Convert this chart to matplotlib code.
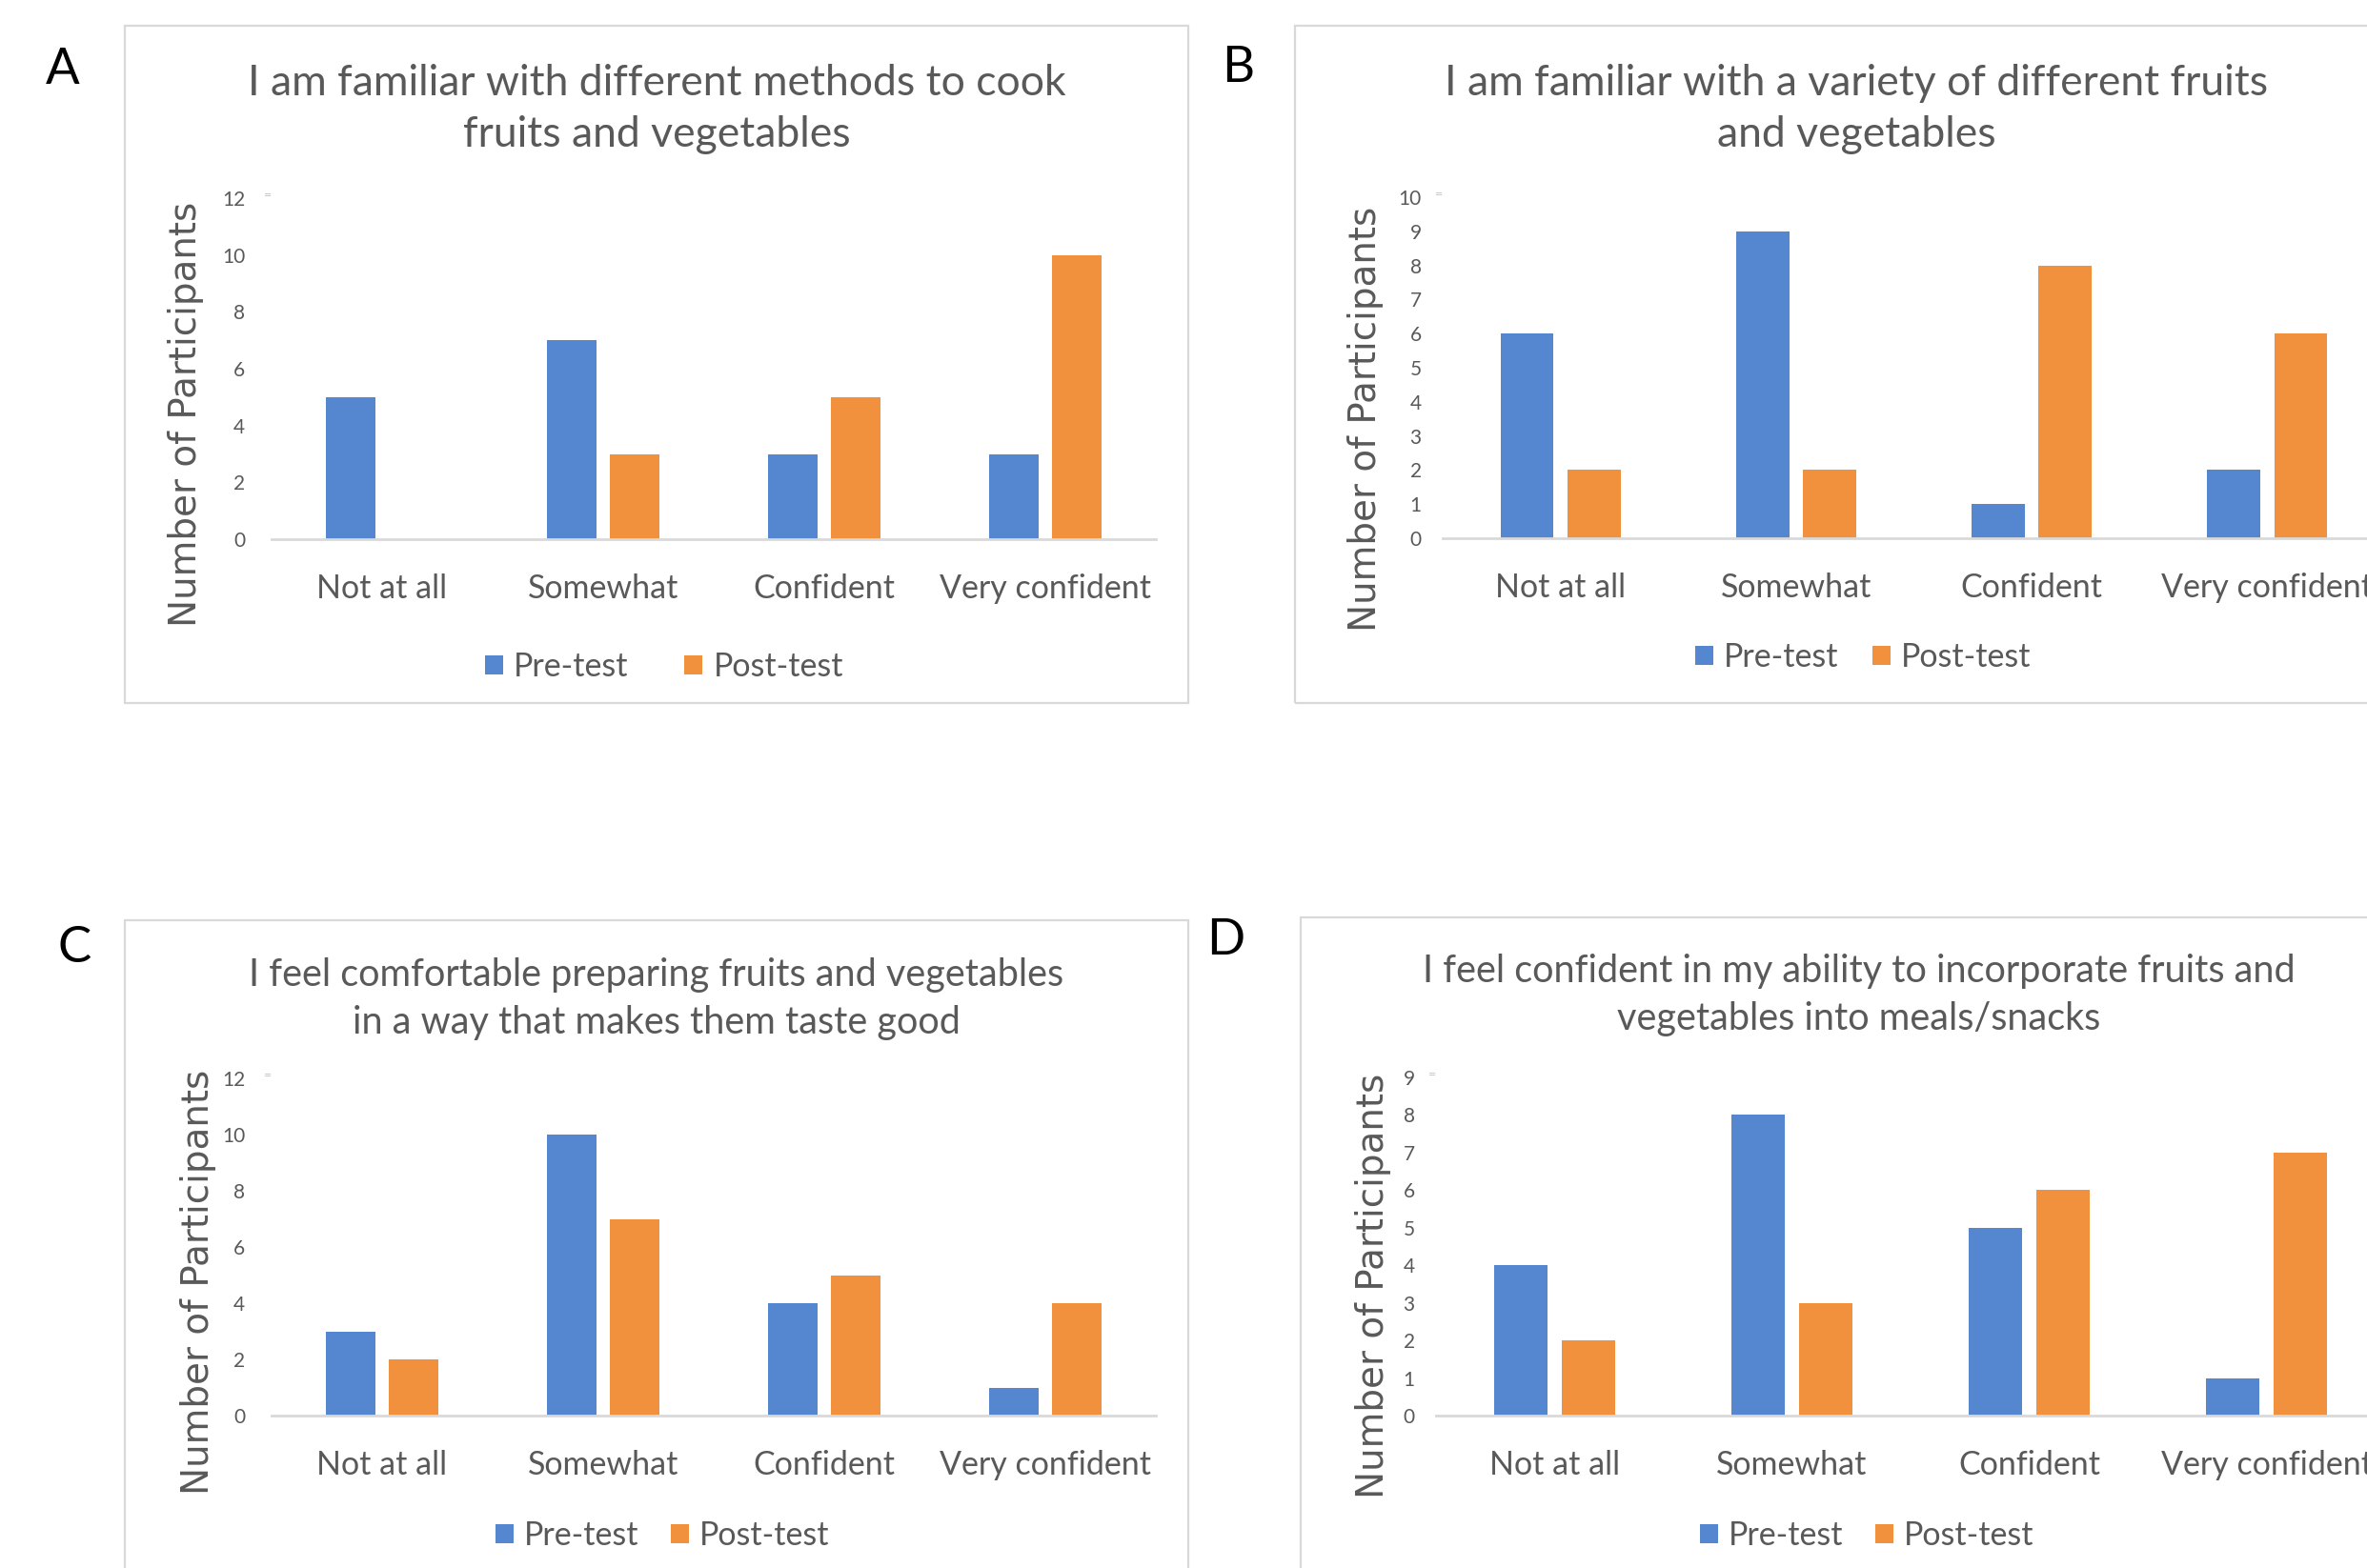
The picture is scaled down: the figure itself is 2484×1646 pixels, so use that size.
import matplotlib
matplotlib.use("Agg")
import matplotlib.pyplot as plt
from matplotlib.patches import Rectangle
import numpy as np

W, H = 2484, 1646

categories = ["Not at all", "Somewhat", "Confident", "Very confident"]
series_names = ["Pre-test", "Post-test"]

title_a = ["I am familiar with different methods to cook", "fruits and vegetables"]
pre_a = [5, 7, 3, 3]
post_a = [0, 3, 5, 10]

title_b = ["I am familiar with a variety of different fruits", "and vegetables"]
pre_b = [6, 9, 1, 2]
post_b = [2, 2, 8, 6]

title_c = ["I feel comfortable preparing fruits and vegetables", "in a way that makes them taste good"]
pre_c = [3, 10, 4, 1]
post_c = [2, 7, 5, 4]

title_d = ["I feel confident in my ability to incorporate fruits and", "vegetables into meals/snacks"]
pre_d = [4, 8, 5, 1]
post_d = [2, 3, 6, 7]

BLUE = "#5587d1"
ORANGE = "#f2913d"
GREY = "#595959"
LINE = "#d9d9d9"
FONT = "Lato"

fig = plt.figure(figsize=(W / 100, H / 100), dpi=100)


def fx(x):
    return x / W


def fy(y):
    return 1 - y / H


def panel(letter, letter_xy, frame, axbox, ymax, ystep, title, title_x, title_y, tsize,
          pre, post, ylab_xy, tick_pad, ytick_pad, legend_xy, colspace):
    # light frame around the chart
    x0, y0, x1, y1 = frame
    fig.add_artist(Rectangle((fx(x0), fy(y1)), (x1 - x0) / W, (y1 - y0) / H,
                             transform=fig.transFigure, fill=False, ec=LINE, lw=1.6))
    fig.text(fx(letter_xy[0]), fy(letter_xy[1]), letter, fontsize=38, family=FONT,
             ha="center", va="center", color="black")

    for line, ty in zip(title, title_y):
        fig.text(fx(title_x), fy(ty), line, fontsize=tsize, family=FONT,
                 ha="center", va="center", color=GREY)

    l, t, r, b = axbox
    ax = fig.add_axes([fx(l), fy(b), (r - l) / W, (b - t) / H])
    x = np.arange(len(categories))
    w = 0.225
    ax.bar(x - 0.142, pre, w, color=BLUE, label=series_names[0], zorder=3)
    ax.bar(x + 0.142, post, w, color=ORANGE, label=series_names[1], zorder=3)
    ax.set_xlim(-0.5, len(categories) - 0.5)
    ax.set_ylim(0, ymax)
    ax.set_yticks(np.arange(0, ymax + 0.1, ystep))
    ax.set_xticks(x)
    ax.set_xticklabels(categories, fontsize=24.5, family=FONT, color=GREY)
    for s in ["top", "right", "left"]:
        ax.spines[s].set_visible(False)
    ax.spines["bottom"].set_color(LINE)
    ax.spines["bottom"].set_linewidth(2)
    ax.spines["bottom"].set_zorder(4)
    ax.tick_params(axis="x", length=0, pad=tick_pad)
    ax.tick_params(axis="y", length=0, pad=ytick_pad, labelsize=15, labelcolor=GREY)
    for lab in ax.get_yticklabels():
        lab.set_family(FONT)
    ax.patch.set_alpha(0)
    # small mark at the top of the value axis
    fig.text(fx(l - 4), fy(t - 3), "=", fontsize=7, color="#bfbfbf", ha="center", va="center")

    fig.text(fx(ylab_xy[0]), fy(ylab_xy[1]), "Number of Participants", rotation=90,
             fontsize=28, family="DejaVu Sans", color=GREY, ha="center", va="center")

    ax.legend(loc="center", bbox_to_anchor=(fx(legend_xy[0]), fy(legend_xy[1])),
              bbox_transform=fig.transFigure, ncol=2, frameon=False,
              prop={"family": FONT, "size": 24.5}, labelcolor=GREY,
              handlelength=0.56, handleheight=0.56, handletextpad=0.32, columnspacing=colspace)
    return ax


panel("A", (66, 73), (131, 27, 1247, 738), (285, 208, 1213, 566), 12, 2,
      title_a, 689, (87, 142), 32, pre_a, post_a, (195, 435), 26, 20, (697, 700), 1.73)
panel("B", (1299, 71), (1359, 27, 2500, 738), (1514, 207, 2503, 565), 10, 1,
      title_b, 1948, (87, 142), 32, pre_b, post_b, (1433, 440), 26, 16, (1955, 690), 1.05)
panel("C", (78, 995), (131, 966, 1247, 1660), (285, 1132, 1213, 1486), 12, 2,
      title_c, 689, (1023, 1073), 28.5, pre_c, post_c, (208, 1346), 26, 20, (695, 1612), 1.0)
panel("D", (1286, 987), (1365, 963, 2500, 1660), (1507, 1131, 2503, 1486), 9, 1,
      title_d, 1951, (1019, 1069), 28.5, pre_d, post_d, (1441, 1350), 26, 16, (1959, 1612), 1.0)

fig.savefig("out.png", dpi=100)
